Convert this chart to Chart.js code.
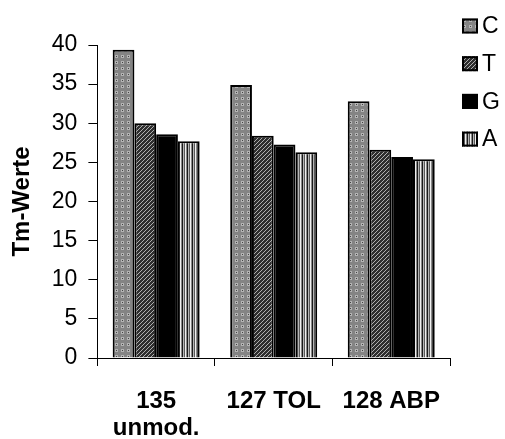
<!DOCTYPE html>
<html>
<head>
<meta charset="utf-8">
<script src="https://cdn.jsdelivr.net/npm/chart.js@4.4.1/dist/chart.umd.min.js"></script>
<style>
  body { margin: 0; background: #fff; }
  #myChart { display: block; }
</style>
</head>
<body>
<canvas id="myChart" width="505" height="439"></canvas>
<script>
const categories = [["135", "unmod."], "127 TOL", "128 ABP"];
const seriesNames = ["C", "T", "G", "A"];
const valuesC = [39.4, 34.9, 32.8];
const valuesT = [30.0, 28.4, 26.6];
const valuesG = [28.6, 27.3, 25.7];
const valuesA = [27.7, 26.3, 25.4];
const yTicks = [0, 5, 10, 15, 20, 25, 30, 35, 40];

// small bitmap fills, like the old office bar patterns
function makePattern(w, h, paint) {
  const c = document.createElement('canvas');
  c.width = w;
  c.height = h;
  const g = c.getContext('2d');
  paint(g);
  return document.getElementById('myChart').getContext('2d').createPattern(c, 'repeat');
}

const dotFill = makePattern(6, 6, g => {
  g.fillStyle = '#848484';
  g.fillRect(0, 0, 6, 6);
  g.fillStyle = '#b4b4b4';
  g.fillRect(1, 1, 3, 3);
  g.fillStyle = '#444';
  g.fillRect(2, 2, 1, 1);
});

const hatchFill = makePattern(4, 4, g => {
  g.fillStyle = '#2e2e2e';
  g.fillRect(0, 0, 4, 4);
  g.fillStyle = '#b0b0b0';
  g.fillRect(0, 3, 1, 1);
  g.fillRect(1, 2, 1, 1);
  g.fillRect(2, 1, 1, 1);
  g.fillRect(3, 0, 1, 1);
});

const stripeFill = makePattern(5, 1, g => {
  const cols = ['#f0f0f0', '#8a8a8a', '#1a1a1a', '#b5b5b5', '#5a5a5a'];
  cols.forEach((col, i) => {
    g.fillStyle = col;
    g.fillRect(i, 0, 1, 1);
  });
});

const fills = [dotFill, hatchFill, '#000000', stripeFill];
const seriesValues = [valuesC, valuesT, valuesG, valuesA];

// legend on the right: patterned squares with the series letter
const sideLegend = {
  id: 'sideLegend',
  afterDraw(chart) {
    const ctx = chart.ctx;
    ctx.save();
    ctx.font = '23px "Liberation Sans", Arial, sans-serif';
    ctx.textBaseline = 'middle';
    chart.data.datasets.forEach((ds, i) => {
      const y = 26 + i * 37.7;
      ctx.fillStyle = ds.backgroundColor;
      ctx.fillRect(462, y - 7.5, 16, 15);
      ctx.strokeStyle = '#000';
      ctx.lineWidth = 2;
      ctx.strokeRect(463, y - 6.5, 14, 13);
      ctx.fillStyle = '#000';
      ctx.fillText(ds.label, 482, y + 1);
    });
    ctx.restore();
  }
};

const data = {
  labels: categories,
  datasets: seriesNames.map((name, i) => ({
    label: name,
    data: seriesValues[i],
    backgroundColor: fills[i],
    borderColor: '#000',
    borderWidth: 2,
    borderSkipped: 'bottom',
    barPercentage: 1.0,
    categoryPercentage: 0.74
  }))
};

const config = {
  type: 'bar',
  data: data,
  options: {
    responsive: false,
    devicePixelRatio: 1,
    animation: false,
    layout: {
      padding: { top: 45, right: 55, left: 6, bottom: 0 }
    },
    plugins: {
      legend: { display: false },
      tooltip: { enabled: false }
    },
    scales: {
      x: {
        offset: true,
        afterFit: axis => {
          axis.height = 81;
        },
        grid: {
          offset: true,
          drawOnChartArea: false,
          drawTicks: true,
          tickLength: 8,
          color: '#000'
        },
        border: { color: '#000', width: 1 },
        ticks: {
          color: '#000',
          padding: 22,
          maxRotation: 0,
          font: { family: '"Liberation Sans", Arial, sans-serif', size: 24, weight: 'bold', lineHeight: 1.125 }
        }
      },
      y: {
        min: 0,
        max: 40,
        afterBuildTicks: axis => {
          axis.ticks = yTicks.map(v => ({ value: v }));
        },
        grid: {
          drawOnChartArea: false,
          drawTicks: true,
          tickLength: 9,
          color: '#000'
        },
        border: { color: '#000', width: 1 },
        ticks: {
          color: '#000',
          padding: 11,
          font: { family: '"Liberation Sans", Arial, sans-serif', size: 23 }
        },
        title: {
          display: true,
          text: 'Tm-Werte',
          color: '#000',
          padding: { top: 2, bottom: 4 },
          font: { family: '"Liberation Sans", Arial, sans-serif', size: 24, weight: 'bold' }
        }
      }
    }
  },
  plugins: [sideLegend]
};

let myChart = new Chart(
  document.getElementById('myChart'),
  config
);
</script>
</body>
</html>
